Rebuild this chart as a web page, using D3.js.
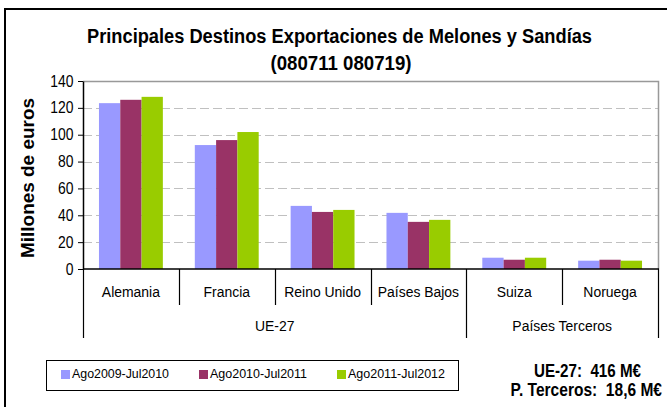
<!DOCTYPE html>
<html>
<head>
<meta charset="utf-8">
<script src="https://cdn.jsdelivr.net/npm/d3@7/dist/d3.min.js"></script>
<style>
  html, body { margin: 0; padding: 0; background: #fff; }
  svg { display: block; }
  text { font-family: "Liberation Sans", Arial, sans-serif; white-space: pre; }
</style>
</head>
<body>
<svg id="chart" width="667" height="407"></svg>
<script>
// ---------- data ----------
const categories = ["Alemania", "Francia", "Reino Unido", "Países Bajos", "Suiza", "Noruega"];
const groupNames = ["UE-27", "Países Terceros"];
const groupOfCategory = [0, 0, 0, 0, 1, 1];
const seriesNames = ["Ago2009-Jul2010", "Ago2010-Jul2011", "Ago2011-Jul2012"];
const values2009 = [123.5, 92.3, 47.0, 41.8, 8.4, 6.2];
const values2010 = [126.0, 96.0, 42.5, 35.1, 6.9, 6.9];
const values2011 = [128.2, 102.0, 44.0, 36.6, 8.4, 6.2];
const yTicks = [0, 20, 40, 60, 80, 100, 120, 140];
const titleLines = ["Principales Destinos Exportaciones de Melones y Sandías", "(080711 080719)"];
const yTitle = "Millones de euros";
const totals = ["UE-27:  416 M€", "P. Terceros:  18,6 M€"];
const colors = ["#9999FF", "#993366", "#99CC00"];

const seriesValues = [values2009, values2010, values2011];

// ---------- layout ----------
const plot = { left: 83, right: 658, top: 81, bottom: 269 };

const svg = d3.select("#chart");

// outer frame (extends beyond the visible area at right / bottom)
svg.append("rect")
  .attr("x", 5).attr("y", 9).attr("width", 720).attr("height", 440)
  .attr("fill", "#fff").attr("stroke", "#000").attr("stroke-width", 2);

const x0 = d3.scaleBand().domain(categories).range([plot.left, plot.right]).paddingInner(0).paddingOuter(0);
const x1 = d3.scaleBand().domain(seriesNames).range([0, x0.bandwidth()]).paddingInner(0).paddingOuter(0.75);
const y = d3.scaleLinear().domain([0, 140]).range([plot.bottom, plot.top]);

// gridlines
svg.append("g").selectAll("line")
  .data(yTicks.filter(t => t > 0 && t < 140))
  .join("line")
  .attr("x1", plot.left).attr("x2", plot.right)
  .attr("y1", d => Math.round(y(d)) + 0.5).attr("y2", d => Math.round(y(d)) + 0.5)
  .attr("stroke", "#c0c0c0").attr("stroke-width", 1).attr("stroke-dasharray", "9,4");

// plot border top & right (gray)
svg.append("path")
  .attr("d", `M${plot.left},${Math.round(y(140)) + 0.5}H${plot.right + 0.5}V${plot.bottom}`)
  .attr("fill", "none").attr("stroke", "#999").attr("stroke-width", 1.5);

// bars
const barData = [];
categories.forEach((c, i) => {
  seriesNames.forEach((s, j) => {
    barData.push({ c, s, v: seriesValues[j][i], color: colors[j] });
  });
});
svg.append("g").selectAll("rect")
  .data(barData)
  .join("rect")
  .attr("x", d => x0(d.c) + x1(d.s))
  .attr("width", x1.bandwidth())
  .attr("y", d => y(d.v))
  .attr("height", d => y(0) - y(d.v))
  .attr("fill", d => d.color);

// y axis
const yAxis = svg.append("g")
  .attr("transform", `translate(${plot.left},0)`)
  .call(d3.axisLeft(y).tickValues(yTicks).tickSize(5).tickPadding(6).tickSizeOuter(0));
yAxis.select(".domain").attr("stroke", "#000").attr("stroke-width", 1.5);
yAxis.selectAll(".tick line").attr("stroke", "#000");
yAxis.selectAll(".tick text")
  .attr("font-size", 16).attr("fill", "#000")
  .attr("font-family", "'Liberation Sans', Arial, sans-serif")
  .attr("transform", "scale(0.87,1)");

// x axis line
svg.append("line")
  .attr("x1", plot.left).attr("x2", plot.right + 1)
  .attr("y1", plot.bottom).attr("y2", plot.bottom)
  .attr("stroke", "#000").attr("stroke-width", 1.5);

// category dividers
const boundaries = categories.map((c, i) => ({ x: x0(c), i })).concat([{ x: plot.right, i: categories.length }]);
svg.append("g").selectAll("line")
  .data(boundaries)
  .join("line")
  .attr("x1", d => Math.round(d.x) + 0.5).attr("x2", d => Math.round(d.x) + 0.5)
  .attr("y1", plot.bottom)
  .attr("y2", d => {
    const isGroupEdge = d.i === 0 || d.i === categories.length || groupOfCategory[d.i] !== groupOfCategory[d.i - 1];
    return isGroupEdge ? 338 : 305;
  })
  .attr("stroke", "#000").attr("stroke-width", 1.2);

// category labels
svg.append("g").selectAll("text")
  .data(categories)
  .join("text")
  .attr("transform", d => `translate(${x0(d) + x0.bandwidth() / 2},297) scale(0.93,1)`)
  .attr("text-anchor", "middle").attr("font-size", 15).attr("fill", "#000")
  .text(d => d);

// group labels
const groupExtents = groupNames.map((g, gi) => {
  const members = categories.filter((c, i) => groupOfCategory[i] === gi);
  const x1g = x0(members[0]);
  const x2g = x0(members[members.length - 1]) + x0.bandwidth();
  return { g, cx: (x1g + x2g) / 2 };
});
svg.append("g").selectAll("text")
  .data(groupExtents)
  .join("text")
  .attr("transform", d => `translate(${d.cx},331) scale(0.93,1)`)
  .attr("text-anchor", "middle").attr("font-size", 15).attr("fill", "#000")
  .text(d => d.g);

// title
svg.append("text")
  .attr("x", 339.5).attr("y", 42.5)
  .attr("text-anchor", "middle").attr("font-size", 20).attr("font-weight", "bold")
  .attr("textLength", 505).attr("lengthAdjust", "spacingAndGlyphs")
  .text(titleLines[0]);
svg.append("text")
  .attr("x", 341).attr("y", 70)
  .attr("text-anchor", "middle").attr("font-size", 20).attr("font-weight", "bold")
  .attr("textLength", 141).attr("lengthAdjust", "spacingAndGlyphs")
  .text(titleLines[1]);

// y title
svg.append("text")
  .attr("transform", "translate(33.5,178) rotate(-90)")
  .attr("text-anchor", "middle").attr("font-size", 17.6).attr("font-weight", "bold")
  .attr("textLength", 160).attr("lengthAdjust", "spacingAndGlyphs")
  .text(yTitle);

// legend
const legend = svg.append("g");
legend.append("rect")
  .attr("x", 46.5).attr("y", 360.5).attr("width", 412).attr("height", 30)
  .attr("fill", "#fff").attr("stroke", "#000").attr("stroke-width", 1);
const legendX = d3.scalePoint().domain(seriesNames).range([61, 337]);
const li = legend.selectAll("g.item").data(seriesNames).join("g").attr("class", "item")
  .attr("transform", d => `translate(${legendX(d)},0)`);
li.append("rect").attr("x", 0).attr("y", 370).attr("width", 9).attr("height", 9)
  .attr("fill", (d, i) => colors[i]);
li.append("text").attr("x", 11).attr("y", 378)
  .attr("font-size", 13).attr("textLength", 97).attr("lengthAdjust", "spacingAndGlyphs")
  .text(d => d);

// totals
svg.append("text")
  .attr("x", 587.5).attr("y", 377).attr("text-anchor", "middle")
  .attr("font-size", 19).attr("font-weight", "bold")
  .attr("textLength", 107).attr("lengthAdjust", "spacingAndGlyphs")
  .text(totals[0]);
svg.append("text")
  .attr("transform", "translate(662,396) scale(0.84,1)")
  .attr("text-anchor", "end")
  .attr("font-size", 18.5).attr("font-weight", "bold")
  .text(totals[1]);
</script>
</body>
</html>
